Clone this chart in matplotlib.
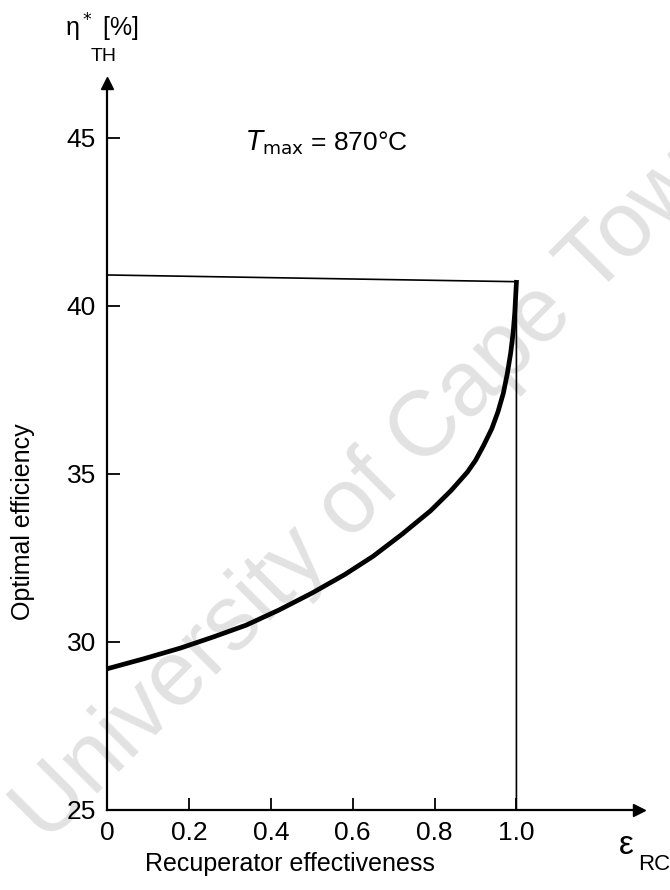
import matplotlib.pyplot as plt

plt.rcParams['font.family'] = ['Liberation Sans', 'DejaVu Sans']

# curve
eps = [0.0, 0.09, 0.18, 0.26, 0.34, 0.42, 0.50, 0.58, 0.65, 0.72, 0.79, 0.84,
       0.88, 0.90, 0.92, 0.94, 0.955, 0.968, 0.978, 0.986, 0.992, 0.996, 1.0]
eta = [29.2, 29.5, 29.82, 30.15, 30.5, 30.95, 31.45, 32.0, 32.55, 33.2, 33.9, 34.5,
       35.05, 35.4, 35.85, 36.35, 36.85, 37.4, 38.0, 38.6, 39.2, 39.8, 40.7]

box_x = [0.0, 1.0, 1.0]
box_y = [40.92, 40.72, 25.0]

x_ticks = [0, 0.2, 0.4, 0.6, 0.8, 1.0]
x_labels = ['0', '0.2', '0.4', '0.6', '0.8', '1.0']
y_ticks = [25, 30, 35, 40, 45]

fig = plt.figure(figsize=(6.7, 8.9), dpi=100)
ax = fig.add_axes([0.160, 0.090, 0.794, 0.817])

# watermark
fig.text(0.564, 0.462, 'University of Cape Town', fontsize=66, color='#e2e2e2',
         rotation=45, ha='center', va='center', zorder=-1)

ax.plot(eps, eta, color='black', lw=3.4, solid_joinstyle='round')
ax.plot(box_x, box_y, color='black', lw=1.2)

ax.set_xlim(0, 1.30)
ax.set_ylim(25, 46.64)
ax.patch.set_alpha(0)

for s in ['top', 'right']:
    ax.spines[s].set_visible(False)
ax.spines['left'].set_linewidth(1.6)
ax.spines['bottom'].set_linewidth(1.6)

# arrow heads on the axes
ax.plot(1, 0, '>', color='black', ms=9, transform=ax.transAxes, clip_on=False)
ax.plot(0, 1, '^', color='black', ms=9, transform=ax.transAxes, clip_on=False)

ax.set_xticks(x_ticks)
ax.set_xticklabels(x_labels)
ax.set_yticks(y_ticks)
ax.tick_params(direction='in', length=9, width=1.3, labelsize=19, pad=8)

ax.set_xlabel('Recuperator effectiveness', fontsize=18)
ax.xaxis.set_label_coords(0.344, -0.058)
ax.set_ylabel('Optimal efficiency', fontsize=18)
ax.yaxis.set_label_coords(-0.135, 0.396)

fig.text(0.097, 0.969, 'η$^*$ [%]', fontsize=18, ha='left', va='center')
fig.text(0.154, 0.937, 'TH', fontsize=14, ha='center', va='center')
fig.text(0.924, 0.050, 'ε', fontsize=24, ha='left', va='center')
fig.text(0.953, 0.040, 'RC', fontsize=16, ha='left', va='top')

ax.text(0.34, 44.85, '$T_{\\mathrm{max}}$ = 870°C', fontsize=19, ha='left', va='center')

fig.savefig('out.png', dpi=100)
